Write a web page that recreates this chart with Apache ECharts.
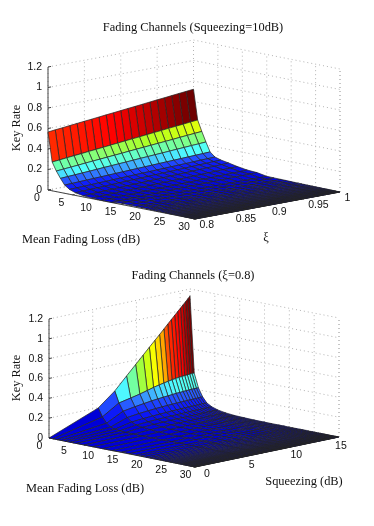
<!DOCTYPE html>
<html>
<head>
<meta charset="utf-8">
<style>
  html, body { margin: 0; padding: 0; background: #fff; }
  /* the reference is a soft scan */
  #chart { width: 374px; height: 526px; filter: blur(0.4px); }
</style>
<script src="https://cdn.jsdelivr.net/npm/echarts@6/dist/echarts.min.js"></script>
</head>
<body>
<div id="chart"></div>
<script>
// tick labels
const lossTicks = [0, 5, 10, 15, 20, 25, 30];
const xiTicks = [0.8, 0.85, 0.9, 0.95, 1];
const squeezeTicks = [0, 5, 10, 15];
const rateTicks = [0, 0.2, 0.4, 0.6, 0.8, 1, 1.2];

// mesh lines of both surfaces (dB)
const nearLoss = [0, 0.85, 1.7, 2.55, 3.4, 4.4, 5.6, 7.2, 9, 11, 13];
const tailLoss = [15, 16.5, 18, 19, 20, 20.8, 21.5, 22.2, 22.8, 23.4, 23.9, 24.4, 24.8, 25.2, 25.6, 26, 26.3, 26.6, 26.9, 27.2, 27.4, 27.6, 27.8, 28, 28.2, 28.4, 28.6, 28.8, 29, 29.15, 29.3, 29.45, 29.6, 29.7, 29.8, 29.9, 30];
const xiGrid = [0.8, 0.81, 0.82, 0.83, 0.84, 0.85, 0.86, 0.87, 0.88, 0.89, 0.9, 0.91, 0.92, 0.93, 0.94, 0.95, 0.96, 0.97, 0.98, 0.99, 1];
const squeezeGrid = [0, 5.63, 7.52, 8.87, 9.91, 10.76, 11.48, 12.11, 12.65, 13.15, 13.59, 14, 14.38, 14.72, 15.04, 15.34, 15.62, 15.89, 16.13];

// key rate, top plot: one row per nearLoss, one column per xiGrid
const rateXi = [
  [.566, .574, .581, .589, .597, .605, .612, .620, .628, .635, .643, .651, .658, .666, .674, .682, .689, .697, .705, .712, .720],
  [.281, .288, .296, .303, .310, .318, .325, .332, .340, .347, .355, .362, .369, .377, .384, .391, .399, .406, .413, .421, .428],
  [.201, .207, .213, .219, .226, .232, .238, .244, .250, .256, .263, .269, .275, .281, .287, .293, .299, .306, .312, .318, .324],
  [.137, .142, .146, .151, .155, .160, .165, .169, .174, .178, .183, .188, .192, .197, .201, .206, .211, .215, .220, .224, .229],
  [.080, .083, .086, .089, .092, .095, .098, .101, .104, .107, .110, .113, .116, .119, .122, .125, .128, .131, .134, .137, .140],
  [.047, .050, .052, .055, .058, .060, .063, .066, .068, .071, .074, .076, .079, .081, .084, .087, .089, .092, .095, .097, .100],
  [.026, .029, .032, .034, .037, .040, .043, .046, .048, .051, .054, .057, .060, .062, .065, .068, .071, .074, .076, .079, .082],
  [.012, .015, .018, .020, .023, .026, .029, .032, .034, .037, .040, .043, .046, .048, .051, .054, .057, .060, .062, .065, .068],
  [.006, .008, .010, .013, .015, .017, .019, .021, .024, .026, .028, .030, .032, .035, .037, .039, .041, .043, .046, .048, .050],
  [.003, .005, .006, .008, .009, .011, .013, .014, .016, .017, .019, .021, .022, .024, .025, .027, .029, .030, .032, .033, .035],
  [.002, .003, .005, .006, .007, .009, .010, .011, .013, .014, .015, .017, .018, .019, .021, .022, .023, .025, .026, .027, .029]
];
// past 13 dB the surface lies on the floor, one reading per tailLoss row is enough
const rateXiTail = [.012, .010, .009, .008, .007, .006, .006, .005, .005, .004, .004, .004, .003, .003, .003, .003, .002, .002, .002, .002, .002, .002, .001, .001, .001, .001, .001, .001, .001, .001, 0, 0, 0, 0, 0, 0, 0];

// key rate, bottom plot: one row per nearLoss, one column per squeezeGrid
const rateSqueeze = [
  [0, .197, .333, .459, .555, .633, .700, .757, .806, .853, .894, .932, .967, .998, 1.028, 1.055, 1.081, 1.106, 1.129],
  [0, .115, .220, .245, .265, .285, .303, .315, .325, .333, .340, .345, .350, .352, .355, .357, .358, .360, .360],
  [0, .060, .145, .165, .178, .188, .195, .200, .204, .208, .211, .213, .215, .217, .218, .219, .220, .220, .220],
  [0, .030, .090, .105, .113, .119, .123, .126, .128, .130, .131, .132, .133, .134, .135, .135, .136, .137, .137],
  [0, .016, .052, .062, .068, .072, .075, .077, .079, .080, .081, .082, .082, .083, .083, .084, .084, .084, .084],
  [0, .009, .032, .040, .044, .047, .049, .050, .051, .052, .053, .053, .054, .054, .054, .055, .055, .055, .055],
  [0, .005, .020, .025, .028, .030, .031, .032, .033, .033, .034, .034, .035, .035, .035, .035, .035, .035, .035],
  [0, .003, .011, .014, .016, .018, .019, .019, .020, .020, .020, .021, .021, .021, .021, .021, .021, .021, .021],
  [0, .001, .006, .008, .009, .010, .011, .011, .011, .012, .012, .012, .012, .012, .012, .012, .012, .012, .012],
  [0, .001, .003, .004, .005, .006, .006, .007, .007, .007, .007, .007, .008, .008, .008, .008, .008, .008, .008],
  [0, 0, .002, .003, .003, .004, .004, .004, .005, .005, .005, .005, .005, .005, .005, .005, .005, .005, .005]
];
const rateSqueezeTail = [.004, .003, .003, .003, .002, .002, .002, .002, .002, .002, .001, .001, .001, .001, .001, .001, .001, .001, .001, .001, .001, 0, 0, 0, 0, 0, 0, 0, 0, 0, 0, 0, 0, 0, 0, 0, 0];

// jet as it looks in the picture: [position, colour]
const jetStops = [
  [0, [0, 0, 216]], [0.125, [16, 32, 255]], [0.2, [42, 96, 255]], [0.25, [64, 176, 255]],
  [0.3, [80, 255, 255]], [0.4, [112, 255, 168]], [0.52, [176, 255, 32]], [0.63, [255, 255, 0]],
  [0.72, [255, 160, 0]], [0.77, [255, 48, 0]], [0.875, [255, 0, 0]], [1, [96, 0, 0]]
];

function jetColor(t) {
  t = Math.min(1, Math.max(0, t));
  let k = 0;
  while (k < jetStops.length - 2 && t > jetStops[k + 1][0]) k++;
  const a = jetStops[k], b = jetStops[k + 1];
  const f = (t - a[0]) / (b[0] - a[0]);
  const c = a[1].map((v, n) => Math.round(v + (b[1][n] - v) * f));
  return "rgb(" + c.join(",") + ")";
}

// a, b, c, d: floor corners in page pixels. a=(loss 0, other min), b=(loss 30, other min),
// c=(loss 30, other max), d=(loss 0, other max)
const topView = {
  a: [48, 190], b: [195, 219], c: [340, 192], d: [193.5, 163], zPx: 102.5,
  otherMin: 0.8, otherMax: 1, otherTicks: xiTicks, otherGrid: xiGrid, zMax: 0.72,
  lossLabel: [-11, 8, "center"], otherLabel: [4.5, 6.5, "left"]
};
const bottomView = {
  a: [49, 438], b: [195, 467], c: [339, 437], d: [190, 408], zPx: 99.2,
  otherMin: 0, otherMax: 16.13, otherTicks: squeezeTicks, otherGrid: squeezeGrid, zMax: 1.129,
  lossLabel: [-9.5, 8, "center"], otherLabel: [12, 7, "center"]
};

function project(view, loss, other, z) {
  const u = loss / 30;
  const v = (other - view.otherMin) / (view.otherMax - view.otherMin);
  const x = (1 - u) * (1 - v) * view.a[0] + u * (1 - v) * view.b[0] + u * v * view.c[0] + (1 - u) * v * view.d[0];
  const y = (1 - u) * (1 - v) * view.a[1] + u * (1 - v) * view.b[1] + u * v * view.c[1] + (1 - u) * v * view.d[1];
  return [x, y - z * view.zPx];
}

// far cells first so the nearer ones paint over them
function surfaceSeries(view, nearRows, tailRates) {
  const grid = view.otherGrid;
  const rows = nearRows.concat(tailRates.map(r => grid.map(() => r)));
  const loss = nearLoss.concat(tailLoss);
  const cells = [];
  for (let i = 0; i < loss.length - 1; i++) {
    for (let j = grid.length - 2; j >= 0; j--) {
      cells.push([loss[i], loss[i + 1], grid[j], grid[j + 1],
        rows[i][j], rows[i + 1][j], rows[i + 1][j + 1], rows[i][j + 1]]);
    }
  }
  return {
    type: "custom",
    silent: true,
    animation: false,
    clip: false,
    z: 3,
    data: cells,
    renderItem: function (params, api) {
      const l0 = api.value(0), l1 = api.value(1), o0 = api.value(2), o1 = api.value(3);
      const z00 = api.value(4);
      const pts = [
        project(view, l0, o0, z00),
        project(view, l1, o0, api.value(5)),
        project(view, l1, o1, api.value(6)),
        project(view, l0, o1, api.value(7))
      ].map(p => api.coord(p));
      return {
        type: "polygon",
        shape: { points: pts },
        style: { fill: jetColor(z00 / view.zMax), stroke: "rgba(36,36,36,0.9)", lineWidth: 0.8 }
      };
    }
  };
}

function frameSeries(view, solid) {
  const lo = view.otherMin, hi = view.otherMax, zTop = 1.2;
  const segs = [];
  if (solid) {
    const t = (hi - lo) * 0.015;
    segs.push([0, lo, 0, 0, lo, zTop], [0, lo, 0, 30, lo, 0], [30, lo, 0, 30, hi, 0]);
    rateTicks.forEach(r => segs.push([0, lo, r, 0, lo + t * 1.4, r]));
    lossTicks.forEach(l => segs.push([l, lo, 0, l, lo + t, 0]));
    view.otherTicks.forEach(o => segs.push([30, o, 0, 29.4, o, 0]));
  } else {
    rateTicks.forEach(r => {
      segs.push([0, lo, r, 0, hi, r], [0, hi, r, 30, hi, r]);
    });
    lossTicks.forEach(l => {
      segs.push([l, hi, 0, l, hi, zTop], [l, lo, 0, l, hi, 0]);
    });
    view.otherTicks.forEach(o => {
      segs.push([0, o, 0, 0, o, zTop], [0, o, 0, 30, o, 0]);
    });
    segs.push([0, hi, 0, 0, hi, zTop], [30, hi, 0, 30, hi, zTop]);
  }
  return {
    type: "custom",
    silent: true,
    animation: false,
    clip: false,
    z: solid ? 2 : 1,
    data: segs,
    renderItem: function (params, api) {
      const p0 = api.coord(project(view, api.value(0), api.value(1), api.value(2)));
      const p1 = api.coord(project(view, api.value(3), api.value(4), api.value(5)));
      return {
        type: "line",
        shape: { x1: p0[0], y1: p0[1], x2: p1[0], y2: p1[1] },
        style: solid
          ? { stroke: "#444", lineWidth: 1 }
          : { stroke: "#b4b4b4", lineWidth: 1, lineDash: [1, 3] }
      };
    }
  };
}

function labelSeries(view) {
  const lo = view.otherMin;
  const labels = [];
  rateTicks.forEach(r => labels.push({ p: [0, lo, r], text: String(r), off: [-6, 0, "right"] }));
  lossTicks.forEach(l => labels.push({ p: [l, lo, 0], text: String(l), off: view.lossLabel }));
  view.otherTicks.forEach(o => labels.push({ p: [30, o, 0], text: String(o), off: view.otherLabel }));
  return {
    type: "custom",
    silent: true,
    animation: false,
    clip: false,
    z: 4,
    data: labels.map(l => l.p),
    renderItem: function (params, api) {
      const item = labels[params.dataIndex];
      const pos = api.coord(project(view, api.value(0), api.value(1), api.value(2)));
      return {
        type: "text",
        x: pos[0] + item.off[0],
        y: pos[1] + item.off[1],
        style: {
          text: item.text,
          fill: "#111",
          font: "10.5px 'Liberation Sans'",
          textAlign: item.off[2],
          textVerticalAlign: "middle"
        }
      };
    }
  };
}

function axisName(text, x, y, rotate) {
  return {
    type: "text",
    x: x,
    y: y,
    rotation: rotate ? Math.PI / 2 : 0,
    style: {
      text: text,
      fill: "#111",
      font: "12.4px 'Liberation Serif'",
      textAlign: "center",
      textVerticalAlign: "middle"
    }
  };
}

const titleStyle = { fontFamily: "Liberation Serif", fontSize: 12.4, fontWeight: "normal", color: "#111" };

const chart = echarts.init(document.getElementById("chart"));
chart.setOption({
  animation: false,
  backgroundColor: "#fff",
  title: [
    { text: "Fading Channels (Squeezing=10dB)", left: 193, top: 22, textAlign: "center", padding: 0, textStyle: titleStyle },
    { text: "Fading Channels (ξ=0.8)", left: 193, top: 270, textAlign: "center", padding: 0, textStyle: titleStyle }
  ],
  // page pixels as axis units, the projection above lands on these scales
  grid: { left: 0, right: 0, top: 0, bottom: 0 },
  xAxis: { type: "value", min: 0, max: 374, show: false },
  yAxis: { type: "value", min: 0, max: 526, inverse: true, show: false },
  graphic: [
    axisName("Key Rate", 17, 128, true),
    axisName("Mean Fading Loss (dB)", 81, 240),
    axisName("ξ", 266, 238),
    axisName("Key Rate", 17, 378, true),
    axisName("Mean Fading Loss (dB)", 85, 489),
    axisName("Squeezing (dB)", 304, 482)
  ],
  series: [
    frameSeries(topView, false),
    frameSeries(topView, true),
    surfaceSeries(topView, rateXi, rateXiTail),
    labelSeries(topView),
    frameSeries(bottomView, false),
    frameSeries(bottomView, true),
    surfaceSeries(bottomView, rateSqueeze, rateSqueezeTail),
    labelSeries(bottomView)
  ]
});
</script>
</body>
</html>
